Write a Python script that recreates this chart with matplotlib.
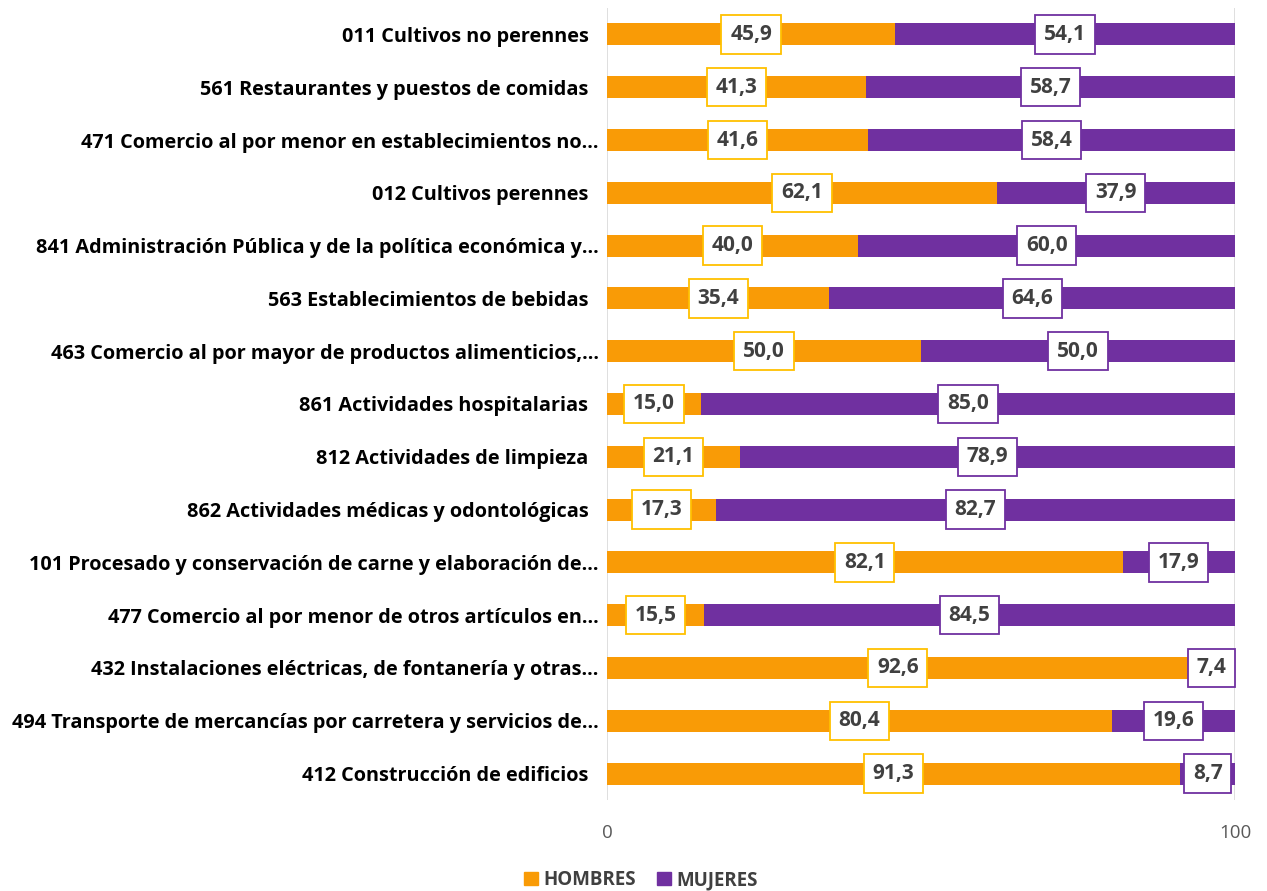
import matplotlib
matplotlib.use("Agg")
import matplotlib.pyplot as plt
from matplotlib.patches import Patch

categories = [
    "011 Cultivos no perennes  ",
    "561 Restaurantes y puestos de comidas  ",
    "471 Comercio al por menor en establecimientos no…",
    "012 Cultivos perennes  ",
    "841 Administración Pública y de la política económica y…",
    "563 Establecimientos de bebidas  ",
    "463 Comercio al por mayor de productos alimenticios,…",
    "861 Actividades hospitalarias  ",
    "812 Actividades de limpieza  ",
    "862 Actividades médicas y odontológicas  ",
    "101 Procesado y conservación de carne y elaboración de…",
    "477 Comercio al por menor de otros artículos en…",
    "432 Instalaciones eléctricas, de fontanería y otras…",
    "494 Transporte de mercancías por carretera y servicios de…",
    "412 Construcción de edificios  ",
]
hombres = [45.9, 41.3, 41.6, 62.1, 40.0, 35.4, 50.0, 15.0, 21.1, 17.3, 82.1, 15.5, 92.6, 80.4, 91.3]
mujeres = [54.1, 58.7, 58.4, 37.9, 60.0, 64.6, 50.0, 85.0, 78.9, 82.7, 17.9, 84.5, 7.4, 19.6, 8.7]
series_names = ["HOMBRES", "MUJERES"]
xticks = [0, 100]

C_H = "#F99B06"
C_M = "#7030A0"
C_HB = "#FFC000"
TXT = "#404040"
FONT = "Open Sans"

fig = plt.figure(figsize=(12.67, 8.91), dpi=100)
ax = fig.add_axes([607/1267, 1-800/891, (1235-607)/1267, 792/891])

y = list(range(len(categories)))
ax.barh(y, hombres, height=0.42, color=C_H, zorder=2)
ax.barh(y, mujeres, left=hombres, height=0.42, color=C_M, zorder=2)

for i, (h, m) in enumerate(zip(hombres, mujeres)):
    ax.text(h/2, i, f"{h:.1f}".replace(".", ","), ha="center", va="center",
            fontsize=15, fontweight="bold", color=TXT, family=FONT, zorder=4,
            bbox=dict(boxstyle="square,pad=0.42", fc="white", ec=C_HB, lw=1.3))
    ax.text(h + m/2, i, f"{m:.1f}".replace(".", ","), ha="center", va="center",
            fontsize=15, fontweight="bold", color=TXT, family=FONT, zorder=4,
            bbox=dict(boxstyle="square,pad=0.42", fc="white", ec=C_M, lw=1.3))

ax.set_xlim(0, 100)
ax.set_ylim(len(categories)-0.5, -0.5)
ax.set_yticks(y)
ax.set_yticklabels(categories, fontsize=14.3, fontweight="bold", family=FONT, color="black")
ax.set_xticks(xticks)
ax.set_xticklabels([str(t) for t in xticks], fontsize=13.5, family=FONT, color="#595959")
ax.tick_params(axis="y", length=0, pad=6)
ax.tick_params(axis="x", length=0, pad=17)
for s in ax.spines.values():
    s.set_visible(False)
for xv in xticks:
    ax.axvline(xv, color="#D9D9D9", lw=1.2, zorder=1)

handles = [Patch(color=C_H), Patch(color=C_M)]
fig.legend(handles, series_names, loc="center", bbox_to_anchor=(641/1267, 1-880/891),
           ncol=2, frameon=False, handlelength=0.75, handleheight=0.75, handletextpad=0.3,
           columnspacing=1.1, prop=dict(family=FONT, weight="bold", size=13.5),
           labelcolor=TXT)

fig.savefig("out.png", dpi=100)
